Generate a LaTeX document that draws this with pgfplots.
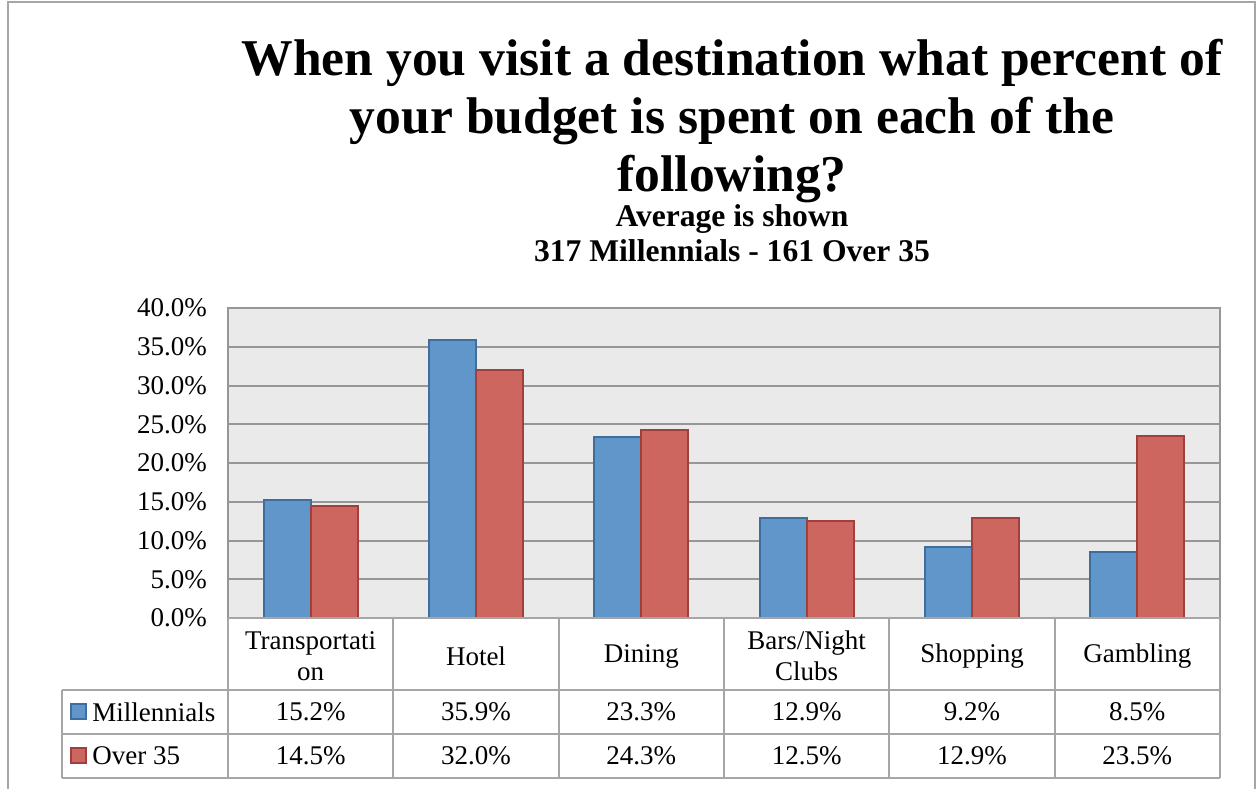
\documentclass[border=0pt]{standalone}
\usepackage{fontspec}
\setmainfont{Liberation Serif}
\usepackage{pgfplots}
\pgfplotsset{compat=1.18}
\usetikzlibrary{calc}
\definecolor{blueF}{RGB}{96,150,201}
\definecolor{blueE}{RGB}{63,109,158}
\definecolor{redF}{RGB}{206,102,96}
\definecolor{redE}{RGB}{160,64,60}
\definecolor{plotbg}{RGB}{234,234,234}
\definecolor{gridc}{RGB}{150,150,150}
\definecolor{tabc}{RGB}{166,166,166}
\begin{document}
\begin{tikzpicture}
\begin{axis}[
  name=ax,
  scale only axis,
  width=496pt, height=155pt,
  xmin=-0.5, xmax=5.5,
  ymin=0, ymax=40,
  ytick={0,5,...,40},
  xtick=\empty,
  ymajorgrids,
  grid style={gridc, line width=1pt},
  axis line style={gridc, line width=1pt},
  axis background/.style={fill=plotbg},
  major tick length=0pt,
  ybar=0pt,
  bar width=23.5pt,
  /pgf/number format/assume math mode=true,
  yticklabel={\pgfmathprintnumber[fixed,fixed zerofill,precision=1]{\tick}\%},
  yticklabel style={font=\fontsize{13.5}{15}\selectfont, xshift=-7pt},
  clip=false,
]
\addplot[fill=blueF, draw=blueE, line width=1pt] coordinates {(0,15.2) (1,35.9) (2,23.3) (3,12.9) (4,9.2) (5,8.5)};
\addplot[fill=redF, draw=redE, line width=1pt] coordinates {(0,14.5) (1,32.0) (2,24.3) (3,12.5) (4,12.9) (5,23.5)};
\end{axis}
\begin{scope}[shift={(ax.south west)}, x=1pt, y=1pt]
  % bounding box of the whole image
  \useasboundingbox (-114,-85) rectangle (514.5,309);
  % outer frame
  \draw[tabc, line width=1pt] (-110,-90) -- (-110,308) -- (513.5,308) -- (513.5,-90);
  % title
  \node[anchor=base, font=\fontsize{25.8}{29}\selectfont\bfseries] at (252,271) {When you visit a destination what percent of};
  \node[anchor=base, font=\fontsize{25.8}{29}\selectfont\bfseries] at (252,242) {your budget is spent on each of the};
  \node[anchor=base, font=\fontsize{25.8}{29}\selectfont\bfseries] at (252,213) {following?};
  \node[anchor=base, font=\fontsize{15.8}{18}\selectfont\bfseries] at (252,196) {Average is shown};
  \node[anchor=base, font=\fontsize{15.8}{18}\selectfont\bfseries] at (252,178.5) {317 Millennials - 161 Over 35};
  % data table lines
  \draw[tabc, line width=1pt] (0,0) -- (496,0);
  \draw[tabc, line width=1pt] (-83,-36) -- (496,-36);
  \draw[tabc, line width=1pt] (-83,-58) -- (496,-58);
  \draw[tabc, line width=1pt] (-83,-80) -- (496,-80);
  \draw[tabc, line width=1pt] (-83,-36) -- (-83,-80);
  \foreach \xx in {0,82.667,165.333,248,330.667,413.333,496} {
    \draw[tabc, line width=1pt] (\xx,0) -- (\xx,-80);
  }
  % header cells
  \foreach \lab [count=\i from 0] in {{Transportati\\on},Hotel,Dining,{Bars/Night\\Clubs},Shopping,Gambling} {
    \node[font=\fontsize{13.5}{15.5}\selectfont, align=center] at ({41.333+82.667*\i},-19) {\lab};
  }
  % legend keys and row names
  \draw[blueE, fill=blueF, line width=0.7pt] (-78.5,-50.5) rectangle (-71,-43);
  \draw[redE, fill=redF, line width=0.7pt] (-78.5,-72.5) rectangle (-71,-65);
  \node[anchor=west, inner sep=0pt, font=\fontsize{13.5}{15}\selectfont] at (-68,-47) {Millennials};
  \node[anchor=west, inner sep=0pt, font=\fontsize{13.5}{15}\selectfont] at (-68,-69) {Over 35};
  % values
  \foreach \v [count=\i from 0] in {15.2,35.9,23.3,12.9,9.2,8.5} {
    \node[font=\fontsize{13.5}{15}\selectfont] at ({41.333+82.667*\i},-47) {\v\%};
  }
  \foreach \v [count=\i from 0] in {14.5,32.0,24.3,12.5,12.9,23.5} {
    \node[font=\fontsize{13.5}{15}\selectfont] at ({41.333+82.667*\i},-69) {\v\%};
  }
\end{scope}
\end{tikzpicture}
\end{document}
